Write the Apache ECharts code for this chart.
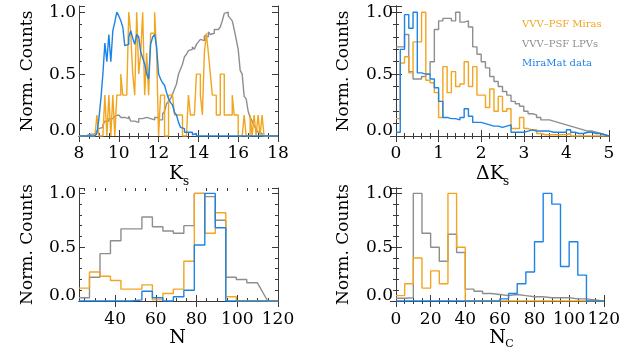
<!DOCTYPE html>
<html><head><meta charset="utf-8">
<script src="https://cdn.jsdelivr.net/npm/echarts@6/dist/echarts.min.js"></script>
<style>html,body{margin:0;padding:0;background:#fff}#c{width:623px;height:356px}</style>
</head><body><div id="c"></div>
<script>
// ---------------- DATA (normalised histogram heights) ----------------
// Panel 1: Ks, bins of 0.1 mag starting at 8.0
const ksStart = 8.0, ksWidth = 0.1;
const ksGray = [
 0,0,0.005,0.005,0.005,0.015,0.015,0.015,0.03,0.04,
 0.06,0.07,0.09,0.12,0.12,0.14,0.14,0.14,0.16,0.17,
 0.18,0.15,0.15,0.14,0.14,0.16,0.12,0.12,0.11,0.11,
 0.14,0.14,0.15,0.15,0.14,0.14,0.13,0.13,0.15,0.15,
 0.13,0.13,0.18,0.2,0.26,0.28,0.3,0.34,0.38,0.42,
 0.5,0.54,0.58,0.64,0.66,0.69,0.7,0.72,0.7,0.74,
 0.76,0.78,0.77,0.81,0.8,0.84,0.82,0.83,0.86,0.86,
 0.87,0.88,0.93,0.99,1.0,0.97,0.95,0.93,0.86,0.78,
 0.7,0.53,0.5,0.32,0.3,0.2,0.15,0.12,0.08,0.06,
 0.03,0.02,0,0,0,0,0,0,0,0];
const ksBlue = [
 0,0,0,0,0,0,0,0,0,0.02,
 0.14,0.3,0.5,0.75,0.6,0.82,0.6,0.85,0.92,1.0,
 0.97,0.93,0.88,0.73,0.74,0.8,0.85,0.79,0.74,0.82,
 0.8,0.68,0.63,0.58,0.5,0.46,0.74,0.8,0.82,0.72,
 0.5,0.46,0.43,0.41,0.35,0.3,0.27,0.25,0.19,0.17,
 0.11,0.07,0.06,0.03,0.03,0.02,0.03,0.01,0.02,0,
 0,0,0,0,0,0,0,0,0,0,
 0,0,0,0,0,0,0,0,0,0,
 0,0,0,0,0,0,0,0,0,0,
 0,0,0,0,0,0,0,0,0,0];
const ksOrange = [
 0,0,0,0,0,0,0,0,0,0.17,
 0,0,0,0.33,0,0.33,0,0.33,0,0.33,
 0.33,0.5,0.33,0.33,0.33,1,0.83,0.5,0.33,1,
 0.5,0.67,1,0.33,0.67,0.33,0.83,0.83,1,0.67,
 0,0.33,0.33,0,0,0.33,0.33,0.33,0.17,0.17,
 0.17,0.17,0,0,0,0.33,0.17,0.17,0.17,0.5,
 0.5,0.33,0.17,0.67,0.83,0.67,0.5,0.33,0.33,0.17,
 0.17,0.5,0.5,0.17,0.17,0.17,0.17,0.33,0.17,0.17,
 0,0,0,0.17,0,0,0.17,0,0.17,0,
 0.17,0,0.17,0,0,0,0,0,0,0];

// Panel 2: Delta Ks, bins of 0.1 mag starting at 0
const dkStart = 0, dkWidth = 0.1;
const dkGray = [
 0.72,0.72,0.82,0.52,0.46,0.46,0.48,0.5,0.6,0.86,
 0.93,0.95,0.95,0.93,1.0,0.92,0.93,0.88,0.72,0.66,
 0.6,0.55,0.48,0.44,0.4,0.36,0.33,0.28,0.26,0.24,
 0.2,0.18,0.17,0.15,0.13,0.13,0.12,0.11,0.1,0.09,
 0.08,0.07,0.06,0.05,0.04,0.04,0.03,0.02,0.01,0];
const dkBlue = [
 0.03,0.7,0.98,0.87,1.0,0.51,0.5,0.5,0.46,0.39,
 0.28,0.15,0.14,0.14,0.13,0.15,0.22,0.16,0.11,0.11,
 0.1,0.09,0.08,0.08,0.07,0.08,0.09,0.03,0.03,0.03,
 0.04,0.05,0.04,0.04,0.04,0.04,0.03,0.03,0.03,0.03,
 0.05,0.03,0.02,0.02,0.03,0.03,0.02,0.02,0.01,0];
const dkOrange = [
 0.14,0.59,0.64,0.51,0.76,0.76,1.0,0.45,0.43,0.35,
 0.15,0.56,0.35,0.52,0.4,0.42,0.6,0.4,0.56,0.33,
 0.33,0.23,0.38,0.2,0.32,0.2,0.22,0.06,0.06,0.15,
 0.06,0.05,0.05,0.02,0.01,0.01,0.01,0.01,0.01,0.01,
 0.02,0,0,0,0,0,0,0,0,0];

// Panel 3: N, 19 bins of 5.15 starting at 22.25 (null = last bin drawn as a ramp to zero)
const nStart = 22.25, nWidth = 5.15;
const nGray   = [0.03,0.22,0.44,0.56,0.67,0.67,0.78,0.69,0.65,0.63,0.7,1.0,0.97,0.75,0.22,0.2,0.17,null,0];
const nOrange = [0.12,0.27,0.23,0.19,0.11,0.11,0.15,0.01,0.07,0.11,0.37,1.0,0.63,0.82,0.04,0,0,0,0];
const nBlue   = [0,0,0,0,0,0.01,0.09,0.03,0,0.04,0.1,0.52,1.0,0.68,0,0,0,0,0];

// Panel 4: N_C, bins of 5 starting at 0
const ncStart = 0, ncWidth = 5;
const ncGray   = [0.025,0.03,1.0,0.63,0.5,0.37,0.62,0.45,0.11,0.09,0.07,0.06,0.05,0.06,0.05,0.04,0.04,0.03,0.03,0.03,0.02,0.02,0.01,0];
const ncOrange = [0.05,0.16,0.4,0.12,0.28,0.16,1.0,0.5,0,0,0,0,0,0,0,0,0,0,0,0,0,0,0,0];
const ncBlue   = [0,0,0,0,0,0,0,0,0,0,0,0,0.02,0.07,0.16,0.27,0.55,1.0,0.9,0.32,0.55,0.24,0,0];

// Labels
const yTitle = 'Norm. Counts';
const yTickLabels = ['0.0','0.5','1.0'];
const legendNames = ['VVV\u2013PSF Miras','VVV\u2013PSF LPVs','MiraMat data'];
const nTicks = [40,60,80,100,120];
const nMinorTicks = [25,30,35,45,50,55,65,70,75,85,90,95,105,110,115];

// ---------------- STYLE / LAYOUT ----------------
const FONT = 'DejaVu Serif';
const C_OR = '#F2A51E', C_GR = '#8E8E8E', C_BL = '#1C84E6', C_AX = '#3a3a3a';

function steps(start, width, vals) {
  const pts = [];
  for (let i = 0; i < vals.length; i++) {
    const x0 = start + i * width, x1 = x0 + width;
    if (vals[i] === null) { pts.push([x1, 0]); continue; }
    pts.push([x0, vals[i]], [x1, vals[i]]);
  }
  return pts;
}

const panels = [
  {left:79, top:6, width:199, height:130, xmin:8, xmax:18, xint:2, xsplit:4, lm:9,
   start:ksStart, w:ksWidth, g:ksGray, b:ksBlue, o:ksOrange},
  {left:396, top:6, width:213, height:130, xmin:0, xmax:5, xint:1, xsplit:5, lm:9,
   start:dkStart, w:dkWidth, g:dkGray, b:dkBlue, o:dkOrange},
  {left:79, top:188, width:199, height:113, xmin:22.25, xmax:120, custom:true, lm:10,
   start:nStart, w:nWidth, g:nGray, b:nBlue, o:nOrange},
  {left:396, top:188, width:213, height:113, xmin:0, xmax:120, xint:20, xsplit:4, lm:10,
   start:ncStart, w:ncWidth, g:ncGray, b:ncBlue, o:ncOrange}
];

const grid = [], xAxis = [], yAxis = [], series = [], extraX = [];
const axLine = {show:true, lineStyle:{color:C_AX, width:1}};
const labelStyle = {fontFamily:FONT, fontSize:17, color:'#000'};

panels.forEach((p, i) => {
  grid.push({left:p.left, top:p.top, width:p.width, height:p.height, containLabel:false});
  ['bottom','top'].forEach(pos => {
    const ax = {
      type:'value', gridIndex:i, position:pos, min:p.xmin, max:p.xmax,
      axisLine:axLine, splitLine:{show:false},
      axisTick:{show:true, inside:true, length:6, lineStyle:{color:C_AX}},
      axisLabel:Object.assign({show:pos==='bottom', margin:p.lm}, labelStyle)
    };
    if (p.custom) {
      ax.axisTick.customValues = nTicks;
      ax.axisLabel.customValues = nTicks;
    } else {
      ax.interval = p.xint;
      ax.minorTick = {show:true, splitNumber:p.xsplit, length:3, lineStyle:{color:C_AX}};
    }
    xAxis.push(ax);
    if (p.custom) {
      extraX.push({type:'value', gridIndex:i, position:pos, min:p.xmin, max:p.xmax,
        axisLine:{show:false}, splitLine:{show:false}, axisLabel:{show:false},
        axisTick:{show:true, inside:true, length:3, customValues:nMinorTicks, lineStyle:{color:C_AX}}});
    }
  });
  ['left','right'].forEach(pos => {
    yAxis.push({
      type:'value', gridIndex:i, position:pos, min:0, max:1.05, interval:0.5,
      axisLine:axLine, splitLine:{show:false},
      axisTick:{show:true, inside:true, length:6, lineStyle:{color:C_AX}},
      minorTick:{show:true, splitNumber:5, length:3, lineStyle:{color:C_AX}},
      axisLabel:Object.assign({show:pos==='left', margin:3,
        formatter:v => Math.abs(v) < 1e-9 ? '{z|' + yTickLabels[0] + '}' :
                       Math.abs(v - 0.5) < 1e-9 ? yTickLabels[1] :
                       Math.abs(v - 1) < 1e-9 ? yTickLabels[2] : '',
        rich:{z:{fontFamily:FONT, fontSize:17, color:'#000', padding:[0,0,10,0]}}}, labelStyle)
    });
  });
  // drawing order: gray, orange, blue (blue on top, as in the figure)
  [[p.g, C_GR], [p.o, C_OR], [p.b, C_BL]].forEach(([vals, col], k) => {
    series.push({
      type:'line', xAxisIndex:2*i, yAxisIndex:2*i, data:steps(p.start, p.w, vals),
      showSymbol:false, symbol:'none', silent:true, animation:false, z:2 + k,
      lineStyle:{color:col, width:1.4}
    });
  });
});
extraX.forEach(a => xAxis.push(a));

function txt(x, y, text, size, color, opts) {
  return Object.assign({type:'text', x:x, y:y, silent:true,
    style:Object.assign({text:text, fontFamily:FONT, fontSize:size, fill:color,
      textAlign:'center', textVerticalAlign:'middle'}, (opts && opts.style) || {})},
    (opts && opts.el) || {});
}

const graphic = [
  txt(27.5, 71, yTitle, 17, '#000', {el:{rotation:Math.PI/2}}),
  txt(344, 71, yTitle, 17, '#000', {el:{rotation:Math.PI/2}}),
  txt(27.5, 244.5, yTitle, 17, '#000', {el:{rotation:Math.PI/2}}),
  txt(344, 244.5, yTitle, 17, '#000', {el:{rotation:Math.PI/2}}),
  // x titles
  txt(176, 174.5, 'K', 19, '#000'),
  txt(186, 182, 's', 12, '#000'),
  txt(490, 174.5, '\u0394K', 19, '#000'),
  txt(506, 182, 's', 12, '#000'),
  txt(177.5, 338, 'N', 19, '#000'),
  txt(497.5, 338, 'N', 19, '#000'),
  txt(509.5, 344.5, 'C', 11, '#000'),
  // legend
  txt(522, 24.5, legendNames[0], 10, C_OR, {style:{textAlign:'left'}}),
  txt(522, 44.5, legendNames[1], 10, C_GR, {style:{textAlign:'left'}}),
  txt(522, 63, legendNames[2], 10, C_BL, {style:{textAlign:'left'}})
];

const chart = echarts.init(document.getElementById('c'), null, {renderer:'canvas'});
chart.setOption({animation:false, backgroundColor:'#fff', grid, xAxis, yAxis, series, graphic});
</script></body></html>
